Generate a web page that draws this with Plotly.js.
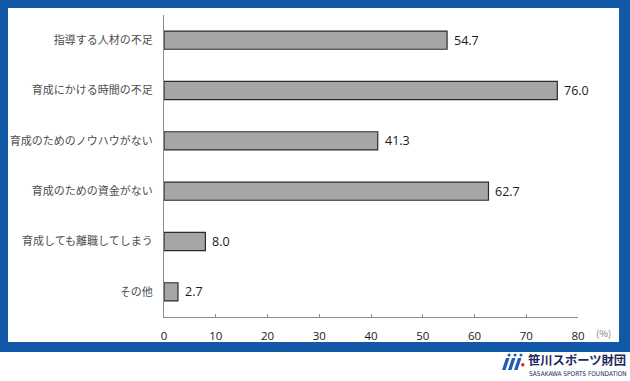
<!DOCTYPE html>
<html>
<head>
<meta charset="utf-8">
<script src="https://cdn.plot.ly/plotly-3.0.1.min.js"></script>
<style>html,body{margin:0;padding:0;background:#fff;}#chart{width:630px;height:381px;}</style>
</head>
<body>
<div id="chart"></div>
<script>
var categories = ["指導する人材の不足", "育成にかける時間の不足", "育成のためのノウハウがない", "育成のための資金がない", "育成しても離職してしまう", "その他"];
var values = [54.7, 76.0, 41.3, 62.7, 8.0, 2.7];
var valueLabels = ["54.7", "76.0", "41.3", "62.7", "8.0", "2.7"];
var xTicks = [0, 10, 20, 30, 40, 50, 60, 70, 80];

var FW = 630, FH = 381;
var M = {l: 164, r: 52, t: 15, b: 64};
var PW = FW - M.l - M.r, PH = FH - M.t - M.b;
function px(x) { return (x - M.l) / PW; }
function py(y) { return 1 - (y - M.t) / PH; }

var blue = "#1159a6";
var shapes = [
  {type: "rect", xref: "paper", yref: "paper", x0: px(0), x1: px(630), y0: py(0), y1: py(352), fillcolor: blue, line: {width: 0}, layer: "below"},
  {type: "rect", xref: "paper", yref: "paper", x0: px(8), x1: px(619), y0: py(8), y1: py(342), fillcolor: "#ffffff", line: {width: 0}, layer: "below"}
];
// logo icon: three slanted strokes with dots and a red dot
var logoBlue = "#1d5fb0";
[502, 508, 514].forEach(function (x0) {
  var d = "M" + px(x0) + "," + py(370) + " L" + px(x0 + 3.5) + "," + py(370) +
          " L" + px(x0 + 7.5) + "," + py(358) + " L" + px(x0 + 4) + "," + py(358) + " Z";
  shapes.push({type: "path", xref: "paper", yref: "paper", path: d, fillcolor: logoBlue, line: {width: 0}});
  shapes.push({type: "circle", xref: "paper", yref: "paper", x0: px(x0 + 5.5), x1: px(x0 + 8.5), y0: py(356.5), y1: py(353.5), fillcolor: logoBlue, line: {width: 0}});
});
shapes.push({type: "circle", xref: "paper", yref: "paper", x0: px(521), x1: px(524.5), y0: py(366.5), y1: py(363), fillcolor: "#e0262b", line: {width: 0}});

var annotations = categories.map(function (c, i) {
  return {x: values[i], y: c, xref: "x", yref: "y", text: valueLabels[i], showarrow: false,
          xanchor: "left", yanchor: "middle", xshift: 5,
          font: {family: "Open Sans, Noto Sans, sans-serif", size: 12.5, color: "#1a1a1a"}};
});
annotations.push({x: px(594), y: py(333), xref: "paper", yref: "paper", text: "(%)", showarrow: false,
  xanchor: "left", yanchor: "middle", font: {family: "Noto Sans CJK JP, sans-serif", size: 9.5, color: "#7a7a7a"}});
annotations.push({x: px(526), y: py(360.5), xref: "paper", yref: "paper", text: "<b>笹川スポーツ財団</b>", showarrow: false,
  xanchor: "left", yanchor: "middle", font: {family: "Noto Sans CJK JP, sans-serif", size: 12.3, color: "#1b2a5e"}});
annotations.push({x: px(526.5), y: py(374), xref: "paper", yref: "paper", text: "SASAKAWA SPORTS FOUNDATION", showarrow: false,
  xanchor: "left", yanchor: "middle", font: {family: "DejaVu Sans Condensed, Liberation Sans Narrow, sans-serif", size: 6.5, color: "#1b2a5e"}});

var trace = {
  type: "bar", orientation: "h", x: values, y: categories, width: 0.36,
  marker: {color: "#a6a6a6", line: {color: "#2b2b2b", width: 1.2}},
  hoverinfo: "none"
};

var layout = {
  width: FW, height: FH,
  margin: M,
  paper_bgcolor: "#ffffff", plot_bgcolor: "rgba(0,0,0,0)",
  showlegend: false,
  xaxis: {
    range: [0, 80], tickvals: xTicks, ticktext: xTicks.map(String),
    showgrid: false, zeroline: false, showline: true, linecolor: "#8c8c8c", linewidth: 1,
    ticks: "inside", ticklen: 3, tickcolor: "#8c8c8c",
    tickfont: {family: "Open Sans, Noto Sans, sans-serif", size: 11.5, color: "#1a1a1a"},
    ticklabelstandoff: 8, fixedrange: true
  },
  yaxis: {
    type: "category", autorange: "reversed",
    showgrid: false, zeroline: false, showline: true, linecolor: "#8c8c8c", linewidth: 1,
    ticks: "", ticklabelstandoff: 8,
    tickfont: {family: "Noto Sans CJK JP, sans-serif", size: 11, color: "#4d4d4d"},
    fixedrange: true
  },
  shapes: shapes,
  annotations: annotations
};

Plotly.newPlot("chart", [trace], layout, {displayModeBar: false, staticPlot: true});
</script>
</body>
</html>
